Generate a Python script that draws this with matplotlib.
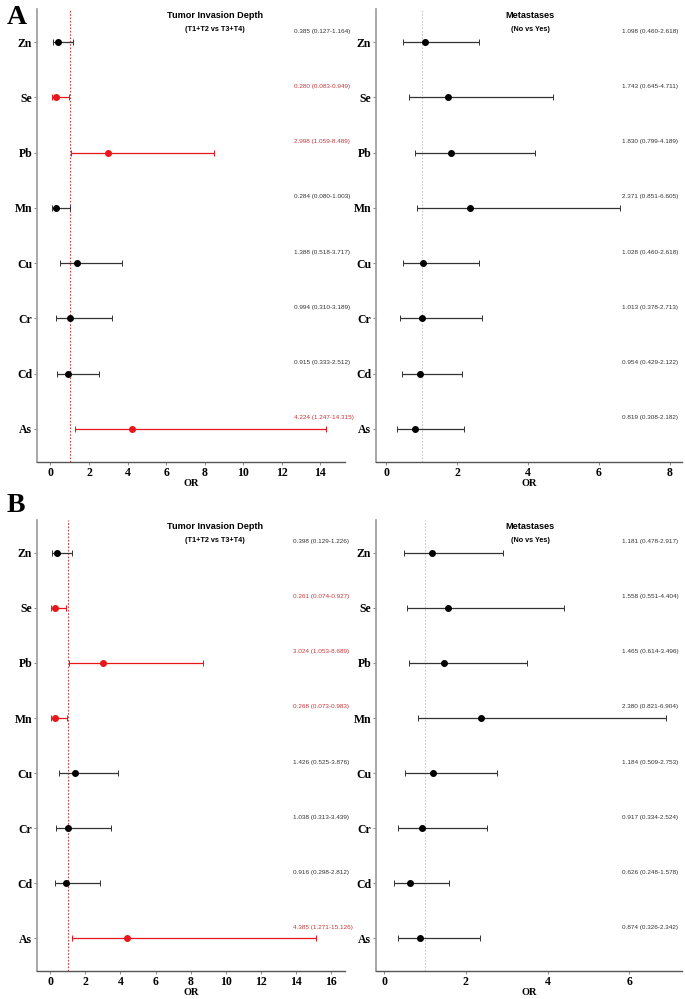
import matplotlib
matplotlib.use("Agg")
import matplotlib.pyplot as plt

elements = ["Zn", "Se", "Pb", "Mn", "Cu", "Cr", "Cd", "As"]

# panel A - tumor invasion depth
a_tid_or = [0.385, 0.280, 2.998, 0.284, 1.388, 0.994, 0.915, 4.224]
a_tid_lo = [0.127, 0.083, 1.059, 0.080, 0.518, 0.310, 0.333, 1.247]
a_tid_hi = [1.164, 0.949, 8.489, 1.003, 3.717, 3.189, 2.512, 14.315]
a_tid_sig = [False, True, True, False, False, False, False, True]

# panel A - metastases
a_met_or = [1.098, 1.743, 1.830, 2.371, 1.028, 1.013, 0.954, 0.819]
a_met_lo = [0.460, 0.645, 0.799, 0.851, 0.460, 0.378, 0.429, 0.308]
a_met_hi = [2.618, 4.711, 4.189, 6.605, 2.618, 2.713, 2.122, 2.182]
a_met_sig = [False] * 8

# panel B - tumor invasion depth
b_tid_or = [0.398, 0.261, 3.024, 0.268, 1.426, 1.038, 0.916, 4.385]
b_tid_lo = [0.129, 0.074, 1.053, 0.073, 0.525, 0.313, 0.298, 1.271]
b_tid_hi = [1.226, 0.927, 8.689, 0.983, 3.876, 3.439, 2.812, 15.126]
b_tid_sig = [False, True, True, True, False, False, False, True]

# panel B - metastases
b_met_or = [1.181, 1.558, 1.465, 2.380, 1.184, 0.917, 0.626, 0.874]
b_met_lo = [0.478, 0.551, 0.614, 0.821, 0.509, 0.334, 0.248, 0.326]
b_met_hi = [2.917, 4.404, 3.496, 6.904, 2.753, 2.524, 1.578, 2.342]
b_met_sig = [False] * 8

RED = "#e8161b"
RED_TXT = "#c8373a"
SERIF = ["Liberation Serif", "DejaVu Serif"]
SANS = ["Liberation Sans Narrow", "Liberation Sans", "DejaVu Sans"]


def forest(ax, ors, lo, hi, sig, xlim, xticks, txt_x, title, subtitle, title_x, refcolor):
    n = len(elements)
    ys = list(range(n, 0, -1))
    ax.axvline(1, color=refcolor, ls=(0, (1.5, 1.5)), lw=0.8, zorder=1)
    for y, o, l, h, s in zip(ys, ors, lo, hi, sig):
        c = RED if s else "#333333"
        ax.errorbar(o, y, xerr=[[o - l], [h - o]], fmt="o", color=RED if s else "black",
                    ecolor=c, elinewidth=0.9, capsize=2, capthick=0.7, markersize=4,
                    zorder=3)
        ax.text(txt_x, y + 0.2, "%.3f (%.3f-%.3f)" % (o, l, h), fontsize=4.6,
                family=SANS, stretch="condensed", color=RED_TXT if s else "#333333",
                ha="left", va="center")
    ax.set_ylim(0.4, n + 0.6)
    ax.set_xlim(*xlim)
    ax.set_yticks(ys)
    ax.set_yticklabels(elements, family=SERIF, fontweight="bold", fontsize=8.5)
    ax.set_xticks(xticks)
    ax.set_xticklabels([str(t) for t in xticks], family=SERIF, fontweight="bold", fontsize=8.5)
    ax.set_xlabel("OR", family=SERIF, fontweight="bold", fontsize=7.5, labelpad=0)
    for sp in ["top", "right"]:
        ax.spines[sp].set_visible(False)
    ax.spines["left"].set_color("#999999")
    ax.spines["left"].set_linewidth(1.2)
    ax.spines["bottom"].set_color("#555555")
    ax.spines["bottom"].set_linewidth(1.0)
    ax.tick_params(axis="both", length=2, width=0.6, color="#777777", pad=1.5)
    ax.text(title_x, 0.985, title, transform=ax.transAxes, ha="center", va="center",
            family=SANS, stretch="condensed", fontweight="bold", fontsize=6.6)
    ax.text(title_x, 0.955, subtitle, transform=ax.transAxes, ha="center", va="center",
            family=SANS, stretch="condensed", fontweight="bold", fontsize=5.2)


fig = plt.figure(figsize=(6.85, 9.99), dpi=100)

ax1 = fig.add_axes([0.054, 0.5375, 0.450, 0.4535])
ax2 = fig.add_axes([0.549, 0.5375, 0.447, 0.4535])
ax3 = fig.add_axes([0.054, 0.028, 0.450, 0.4515])
ax4 = fig.add_axes([0.549, 0.028, 0.447, 0.4515])

forest(ax1, a_tid_or, a_tid_lo, a_tid_hi, a_tid_sig, (-0.7, 15.3), list(range(0, 15, 2)),
       12.65, "Tumor Invasion Depth", "(T1+T2 vs T3+T4)", 0.578, "#d04040")
forest(ax2, a_met_or, a_met_lo, a_met_hi, a_met_sig, (-0.29, 8.35), [0, 2, 4, 6, 8],
       6.66, "Metastases", "(No vs Yes)", 0.503, "#c8c8c8")
forest(ax3, b_tid_or, b_tid_lo, b_tid_hi, b_tid_sig, (-0.75, 16.8), list(range(0, 17, 2)),
       13.8, "Tumor Invasion Depth", "(T1+T2 vs T3+T4)", 0.578, "#d04040")
forest(ax4, b_met_or, b_met_lo, b_met_hi, b_met_sig, (-0.2, 7.3), [0, 2, 4, 6],
       5.83, "Metastases", "(No vs Yes)", 0.503, "#c8c8c8")

fig.text(0.010, 0.982, "A", family=SERIF, fontweight="bold", fontsize=20, va="center")
fig.text(0.010, 0.494, "B", family=SERIF, fontweight="bold", fontsize=20, va="center")

fig.savefig("out.png", dpi=100)
